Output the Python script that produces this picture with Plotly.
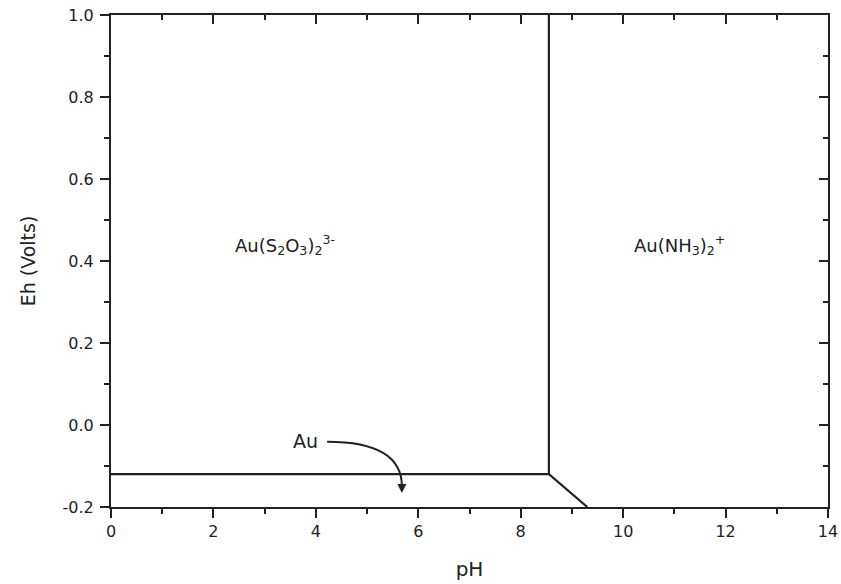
import plotly.graph_objects as go

# Boundary lines (pH, Eh)
au_line_ph = [0, 8.55]
au_line_eh = [-0.12, -0.12]
vert_ph = [8.55, 8.55]
vert_eh = [1.0, -0.12]
diag_ph = [8.55, 9.3]
diag_eh = [-0.12, -0.2]

labels = ["Au(S<sub>2</sub>O<sub>3</sub>)<sub>2</sub><sup>3-</sup>",
          "Au(NH<sub>3</sub>)<sub>2</sub><sup>+</sup>",
          "Au"]
label_ph = [3.4, 11.1, 3.8]
label_eh = [0.44, 0.44, -0.04]

xticks = [0, 2, 4, 6, 8, 10, 12, 14]
yticks = [-0.2, 0.0, 0.2, 0.4, 0.6, 0.8, 1.0]
yticktext = ["-0.2", "0.0", "0.2", "0.4", "0.6", "0.8", "1.0"]

LC = "#222222"
fig = go.Figure()
for xs, ys in [(au_line_ph, au_line_eh), (vert_ph, vert_eh), (diag_ph, diag_eh)]:
    fig.add_trace(go.Scatter(x=xs, y=ys, mode="lines", line=dict(color=LC, width=2.2),
                             showlegend=False, hoverinfo="skip"))
# invisible trace for mirrored axes
fig.add_trace(go.Scatter(x=[0], y=[0], xaxis="x2", yaxis="y2", mode="markers",
                         marker=dict(opacity=0), showlegend=False, hoverinfo="skip"))

FAM = "DejaVu Sans, Liberation Sans, Arial, sans-serif"
font = dict(family=FAM, color="#222222")
for t, px, ey, sz in zip(labels, label_ph, label_eh, [18, 18, 19]):
    fig.add_annotation(x=px, y=ey, text=t, showarrow=False, font=dict(size=sz, **font))
# curved arrow
fig.add_shape(type="path", path="M 4.22,-0.041 C 5.1,-0.041 5.68,-0.07 5.68,-0.15",
              line=dict(color=LC, width=2), xref="x", yref="y")
fig.add_annotation(x=5.68, y=-0.166, ax=5.68, ay=-0.145, axref="x", ayref="y",
                   showarrow=True, arrowhead=2, arrowsize=0.9, arrowwidth=2,
                   arrowcolor=LC, text="")

axcommon = dict(showline=True, linecolor=LC, linewidth=2, showgrid=False, zeroline=False,
                tickcolor=LC, tickwidth=2, tickfont=dict(size=16, **font), automargin=False)
fig.update_layout(
    width=841, height=584, plot_bgcolor="white", paper_bgcolor="white",
    margin=dict(l=111, r=13, t=15, b=77),
    xaxis=dict(range=[0, 14], tickvals=xticks, ticks="outside", ticklen=9,
               minor=dict(ticks="outside", dtick=1, ticklen=5, tickcolor=LC, tickwidth=2),
               title=dict(text="pH", font=dict(size=20, **font), standoff=22), **axcommon),
    yaxis=dict(range=[-0.2, 1.0], tickvals=yticks, ticktext=yticktext, ticks="outside", ticklen=9,
               ticklabelstandoff=3,
               minor=dict(ticks="outside", dtick=0.1, ticklen=5, tickcolor=LC, tickwidth=2),
               title=dict(text="Eh (Volts)", font=dict(size=19, **font), standoff=22), **axcommon),
    xaxis2=dict(range=[0, 14], overlaying="x", side="top", anchor="y", tickvals=xticks,
                ticks="inside", ticklen=9, showticklabels=False,
                minor=dict(ticks="inside", dtick=1, ticklen=5, tickcolor=LC, tickwidth=2),
                **axcommon),
    yaxis2=dict(range=[-0.2, 1.0], overlaying="y", side="right", anchor="x", tickvals=yticks,
                ticks="inside", ticklen=9, showticklabels=False,
                minor=dict(ticks="inside", dtick=0.1, ticklen=5, tickcolor=LC, tickwidth=2),
                **axcommon),
)
fig.write_html("out.html")
